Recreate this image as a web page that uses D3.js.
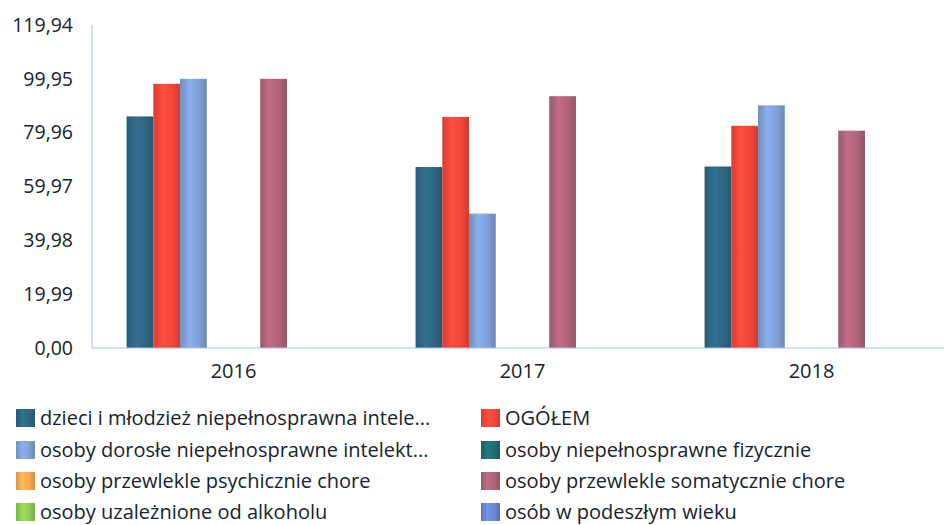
<!DOCTYPE html>
<html><head><meta charset="utf-8">
<script src="https://cdn.jsdelivr.net/npm/d3@7"></script>
<style>
html,body{margin:0;padding:0;background:#fff;}
svg{display:block;font-family:"Open Sans",sans-serif;}
</style></head>
<body>
<svg id="chart" width="944" height="525"></svg>
<script>
const years = ["2016", "2017", "2018"];
const seriesNames = [
  "dzieci i młodzież niepełnosprawna intele...",
  "OGÓŁEM",
  "osoby dorosłe niepełnosprawne intelekt...",
  "osoby niepełnosprawne fizycznie",
  "osoby przewlekle psychicznie chore",
  "osoby przewlekle somatycznie chore",
  "osoby uzależnione od alkoholu",
  "osób w podeszłym wieku"
];
const seriesColors = ["#2d6684", "#f5463a", "#7fa0d8", "#1f6e70", "#f9a94c", "#b0647a", "#8fcb55", "#6a86d6"];
const dzieci = [86.0, 67.2, 67.4];
const ogolem = [98.1, 85.8, 82.5];
const dorosle = [99.95, 49.9, 90.1];
const fizycznie = [0, 0, 0];
const psychicznie = [0, 0, 0];
const somatycznie = [99.95, 93.5, 80.7];
const uzaleznione = [0, 0, 0];
const podeszly = [0, 0, 0];
const seriesValues = [dzieci, ogolem, dorosle, fizycznie, psychicznie, somatycznie, uzaleznione, podeszly];
const tickValues = [0, 19.99, 39.98, 59.97, 79.96, 99.95, 119.94];
const tickLabels = ["0,00", "19,99", "39,98", "59,97", "79,96", "99,95", "119,94"];

const svg = d3.select("#chart");
const x0 = 92, yTop = 25, yBase = 348;
const textColor = "#17232d";

const y = d3.scaleLinear().domain([0, 119.94]).range([yBase, yTop]);
const x = d3.scaleBand().domain(years).range([89, 956]).paddingInner(0.26).paddingOuter(0.13);
const xs = d3.scaleBand().domain(d3.range(seriesNames.length)).range([0, x.bandwidth()]).padding(0);

// gradients
const defs = svg.append("defs");
seriesColors.forEach((c, i) => {
  const g = defs.append("linearGradient").attr("id", "g" + i).attr("x1", "0").attr("x2", "1").attr("y1", "0").attr("y2", "0");
  const base = d3.color(c);
  g.append("stop").attr("offset", "0").attr("stop-color", base.darker(0.35));
  g.append("stop").attr("offset", "0.35").attr("stop-color", base.brighter(0.25));
  g.append("stop").attr("offset", "0.7").attr("stop-color", c);
  g.append("stop").attr("offset", "1").attr("stop-color", base.darker(0.45));
});

// y axis labels
svg.append("g").selectAll("text").data(tickValues).join("text")
  .attr("x", 73).attr("y", d => y(d)).attr("dy", "0.35em")
  .attr("text-anchor", "end").attr("font-size", 19.5).attr("fill", textColor)
  .text((d, i) => tickLabels[i]);

// axis lines
svg.append("line").attr("x1", x0).attr("x2", x0).attr("y1", yTop).attr("y2", yBase)
  .attr("stroke", "#a9c3de").attr("stroke-width", 1);

// bars
const groups = svg.append("g").selectAll("g").data(years).join("g")
  .attr("transform", d => `translate(${x(d)},0)`);
groups.selectAll("rect").data((d, yi) => seriesValues.map((s, si) => ({si, v: s[yi]})))
  .join("rect")
  .attr("x", d => xs(d.si)).attr("width", xs.bandwidth())
  .attr("y", d => y(d.v)).attr("height", d => yBase - y(d.v))
  .attr("fill", d => `url(#g${d.si})`);

svg.append("line").attr("x1", x0).attr("x2", 944).attr("y1", yBase).attr("y2", yBase)
  .attr("stroke", "#a9c3de").attr("stroke-width", 1.2);

// x labels
svg.append("g").selectAll("text").data(years).join("text")
  .attr("x", d => x(d) + x.bandwidth() / 2).attr("y", 371).attr("dy", "0.35em")
  .attr("text-anchor", "middle").attr("font-size", 20).attr("fill", textColor)
  .text(d => d);

// legend
const legX = [16, 481], legY = [418, 450, 481, 512];
const leg = svg.append("g").selectAll("g").data(seriesNames).join("g")
  .attr("transform", (d, i) => `translate(${legX[i % 2]},${legY[Math.floor(i / 2)]})`);
leg.append("rect").attr("x", 0).attr("y", -9).attr("width", 19).attr("height", 18)
  .attr("fill", (d, i) => `url(#g${i})`);
leg.append("text").attr("x", 24).attr("y", 0).attr("dy", "0.35em")
  .attr("font-size", 20).attr("fill", textColor).text(d => d);
</script>
</body></html>
